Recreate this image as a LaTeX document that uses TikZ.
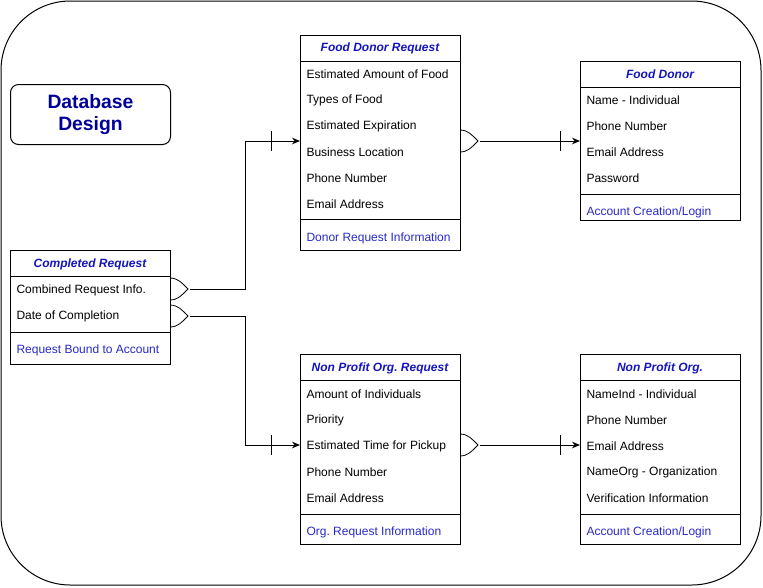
\documentclass[tikz,border=0pt]{standalone}
\usepackage{fontspec}
\setmainfont{Liberation Sans}
\usetikzlibrary{arrows.meta}
\definecolor{hdr}{RGB}{20,20,190}
\definecolor{ftr}{RGB}{40,40,200}
\definecolor{ttl}{RGB}{0,0,153}
\frenchspacing
\begin{document}
\begin{tikzpicture}[x=0.75pt,y=-0.75pt,line width=0.75pt,
  tbl/.style={draw,anchor=north west,minimum width=120pt,inner sep=0pt},
  row/.style={anchor=west,inner sep=0pt,yshift=-0.75pt,font=\fontsize{9}{11}\selectfont},
  hdrtxt/.style={inner sep=0pt,yshift=-0.75pt,font=\fontsize{9}{11}\selectfont\itshape\bfseries,text=hdr},
  ftrtxt/.style={row,text=ftr},
  conn/.style={-{Stealth[length=6pt,width=5pt]}},
  fork/.style={line width=0.6pt}]
\useasboundingbox (0,0) rectangle (763,587);
\draw[rounded corners=52pt] (1,1) rectangle (761,585);
% title
\node[draw,rounded corners=6pt,minimum width=120pt,minimum height=45pt,anchor=north west,inner sep=0pt,
  align=center,font=\fontsize{14.5}{17}\selectfont\bfseries,text=ttl] (title) at (10,84) {Database\\Design};
% Completed Request
\node[tbl,minimum height=85.5pt] (cr) at (10,250) {};
\draw (10,276) -- (170,276) (10,332) -- (170,332);
\node[hdrtxt] (crh) at (90,263) {Completed Request};
\node[row] (cr1) at (16,289) {Combined Request Info.};
\node[row] (cr2) at (16,315) {Date of Completion};
\node[ftrtxt] (crf) at (16,349) {Request Bound to Account};
% Food Donor Request
\node[tbl,minimum height=161.25pt] (fdr) at (300,35) {};
\draw (300,61) -- (460,61) (300,219) -- (460,219);
\node[hdrtxt] (fdrh) at (380,47) {Food Donor Request};
\node[row] (fdr1) at (306,73) {Estimated Amount of Food};
\node[row] (fdr2) at (306,99) {Types of Food};
\node[row] (fdr3) at (306,125) {Estimated Expiration};
\node[row] (fdr4) at (306,151) {Business Location};
\node[row] (fdr5) at (306,177) {Phone Number};
\node[row] (fdr6) at (306,203) {Email Address};
\node[ftrtxt] (fdrf) at (306,237) {Donor Request Information};
% Food Donor
\node[tbl,minimum height=119.25pt] (fd) at (580,61) {};
\draw (580,87) -- (740,87) (580,194) -- (740,194);
\node[hdrtxt] (fdh) at (660,73) {Food Donor};
\node[row] (fd1) at (586,99) {Name - Individual};
\node[row] (fd2) at (586,125) {Phone Number};
\node[row] (fd3) at (586,151) {Email Address};
\node[row] (fd4) at (586,177) {Password};
\node[ftrtxt] (fdf) at (586,211) {Account Creation/Login};
% Non Profit Org. Request
\node[tbl,minimum height=142.5pt] (npr) at (300,354) {};
\draw (300,380) -- (460,380) (300,514) -- (460,514);
\node[hdrtxt] (nprh) at (380,367) {Non Profit Org. Request};
\node[row] (npr1) at (306,393) {Amount of Individuals};
\node[row] (npr2) at (306,419) {Priority};
\node[row] (npr3) at (306,445) {Estimated Time for Pickup};
\node[row] (npr4) at (306,471) {Phone Number};
\node[row] (npr5) at (306,497) {Email Address};
\node[ftrtxt] (nprf) at (306,531) {Org. Request Information};
% Non Profit Org.
\node[tbl,minimum height=142.5pt] (np) at (580,354) {};
\draw (580,380) -- (740,380) (580,514) -- (740,514);
\node[hdrtxt] (nph) at (660,367) {Non Profit Org.};
\node[row] (np1) at (586,393) {NameInd - Individual};
\node[row] (np2) at (586,419) {Phone Number};
\node[row] (np3) at (586,445) {Email Address};
\node[row] (np4) at (586,471) {NameOrg - Organization};
\node[row] (np5) at (586,497) {Verification Information};
\node[ftrtxt] (npf) at (586,531) {Account Creation/Login};
% connector end points
\coordinate (o1) at (190,289);
\coordinate (o2) at (190,316);
\coordinate (o3) at (480,141);
\coordinate (o4) at (480,445);
\coordinate (j1) at (245,141);
\coordinate (j2) at (245,445);
\coordinate (i1) at (300,141);
\coordinate (i2) at (300,445);
\coordinate (i3) at (580,141);
\coordinate (i4) at (580,445);
% fork shapes
\draw[fork] (170,278) .. controls (178,278) and (182,283) .. (188,289) .. controls (182,295) and (178,300) .. (170,300);
\draw[fork] (170,305) .. controls (178,305) and (182,310) .. (188,316) .. controls (182,322) and (178,327) .. (170,327);
\draw[fork] (460,130) .. controls (468,130) and (472,135) .. (478,141) .. controls (472,147) and (468,152) .. (460,152);
\draw[fork] (460,434) .. controls (468,434) and (472,439) .. (478,445) .. controls (472,451) and (468,456) .. (460,456);
% connectors
\draw[conn] (o1) -| (j1) -- (i1);
\draw[conn] (o2) -| (j2) -- (i2);
\draw[conn] (o3) -- (i3);
\draw[conn] (o4) -- (i4);
% ticks
\draw (271,131) -- (271,151);
\draw (271,435) -- (271,455);
\draw (560,131) -- (560,151);
\draw (560,435) -- (560,455);
\end{tikzpicture}
\end{document}
